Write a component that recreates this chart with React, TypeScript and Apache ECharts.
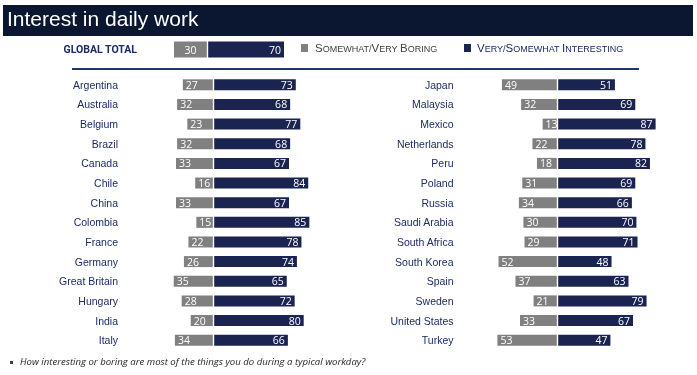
import React, { useEffect, useRef } from "react";
import * as echarts from "echarts";

const titleText = "Interest in daily work";
const globalLabel = ["GLOBAL TOTAL"];
const globalBoring = [30];
const globalInteresting = [70];

const leftCountries = ["Argentina", "Australia", "Belgium", "Brazil", "Canada", "Chile", "China", "Colombia", "France", "Germany", "Great Britain", "Hungary", "India", "Italy"];
const leftBoring = [27, 32, 23, 32, 33, 16, 33, 15, 22, 26, 35, 28, 20, 34];
const leftInteresting = [73, 68, 77, 68, 67, 84, 67, 85, 78, 74, 65, 72, 80, 66];

const rightCountries = ["Japan", "Malaysia", "Mexico", "Netherlands", "Peru", "Poland", "Russia", "Saudi Arabia", "South Africa", "South Korea", "Spain", "Sweden", "United States", "Turkey"];
const rightBoring = [49, 32, 13, 22, 18, 31, 34, 30, 29, 52, 37, 21, 33, 53];
const rightInteresting = [51, 69, 87, 78, 82, 69, 66, 70, 71, 48, 63, 79, 67, 47];

const footnote = "How interesting or boring are most of the things you do during a typical workday?";

const GRAY = "#808080";
const NAVY = "#1b2350";
const LABEL_NAVY = "#1c2b66";
const TITLE_BG = "#0b1730";
const VALUE_FONT = "'Open Sans', sans-serif";
const SANS = "'Liberation Sans', Arial, sans-serif";

export default function App() {
  const ref = useRef<HTMLDivElement>(null);

  useEffect(() => {
    if (!ref.current) return;
    const chart = echarts.init(ref.current, null, { renderer: "svg" });

    const valueLabel = (pos: string) => ({
      show: true,
      position: pos,
      distance: 3,
      color: "#fff",
      fontSize: 10.5,
      fontFamily: VALUE_FONT,
      formatter: (p: any) => String(Math.abs(p.value)),
    });

    const gapLine = {
      silent: true,
      symbol: "none",
      label: { show: false },
      lineStyle: { color: "#fff", width: 1.4, type: "solid" },
      data: [{ xAxis: 0 }],
    };

    const makeX = (gi: number, min: number, max: number) => ({
      type: "value",
      gridIndex: gi,
      min,
      max,
      show: false,
    });

    const makeY = (gi: number, cats: string[], margin: number, bold = false) => ({
      type: "category",
      gridIndex: gi,
      data: cats,
      inverse: true,
      axisLine: { show: false },
      axisTick: { show: false },
      splitLine: { show: false },
      axisLabel: {
        margin,
        color: LABEL_NAVY,
        fontSize: 10.5,
        fontWeight: bold ? "bold" : "normal",
        fontFamily: bold ? "Roboto, sans-serif" : SANS,
      },
    });

    const pair = (gi: number, boring: number[], interesting: number[], bw: number, grayPos: string) => [
      {
        type: "bar",
        xAxisIndex: gi,
        yAxisIndex: gi,
        stack: "s" + gi,
        barWidth: bw,
        data: boring.map((v) => -v),
        itemStyle: { color: GRAY },
        label: valueLabel(grayPos),
      },
      {
        type: "bar",
        xAxisIndex: gi,
        yAxisIndex: gi,
        stack: "s" + gi,
        barWidth: bw,
        data: interesting,
        itemStyle: { color: NAVY },
        label: valueLabel("insideRight"),
        markLine: gapLine,
      },
    ];

    const scale = 1.13;
    const leftCenter = 213.3;
    const rightCenter = 557.3;

    const legendRich = (color: string) => ({
      b: { fontSize: 11.5, fill: color, fontFamily: SANS, verticalAlign: "bottom" },
      s: { fontSize: 9, fill: color, fontFamily: SANS, verticalAlign: "bottom" },
    });

    chart.setOption({
      animation: false,
      grid: [
        { left: 174, width: 110, top: 41, height: 17 },
        { left: leftCenter - 60 * scale, width: 160 * scale, top: 75, height: 275 },
        { left: rightCenter - 60 * scale, width: 160 * scale, top: 75, height: 275 },
      ],
      xAxis: [makeX(0, -30, 70), makeX(1, -60, 100), makeX(2, -60, 100)],
      yAxis: [
        makeY(0, globalLabel, 37, true),
        makeY(1, leftCountries, 27.5),
        makeY(2, rightCountries, 36),
      ],
      series: [
        ...pair(0, globalBoring, globalInteresting, 16, "inside"),
        ...pair(1, leftBoring, leftInteresting, 11, "insideLeft"),
        ...pair(2, rightBoring, rightInteresting, 11, "insideLeft"),
      ],
      graphic: [
        { type: "rect", left: 3, top: 5, shape: { width: 690, height: 31 }, style: { fill: TITLE_BG } },
        {
          type: "text",
          left: 7,
          top: 8,
          style: { text: titleText, fill: "#fff", fontSize: 21, fontFamily: SANS },
        },
        { type: "rect", left: 301, top: 44, shape: { width: 7, height: 8 }, style: { fill: GRAY } },
        {
          type: "text",
          left: 315,
          top: 41.5,
          style: {
            text: "{b|S}{s|OMEWHAT/}{b|V}{s|ERY }{b|B}{s|ORING}",
            rich: legendRich("#404040"),
          },
        },
        { type: "rect", left: 464, top: 44, shape: { width: 7, height: 8 }, style: { fill: NAVY } },
        {
          type: "text",
          left: 477,
          top: 41.5,
          style: {
            text: "{b|V}{s|ERY/}{b|S}{s|OMEWHAT }{b|I}{s|NTERESTING}",
            rich: legendRich(LABEL_NAVY),
          },
        },
        {
          type: "line",
          shape: { x1: 72, y1: 69, x2: 639, y2: 69 },
          style: { stroke: "#1f3864", lineWidth: 2 },
        },
        { type: "rect", left: 10, top: 361, shape: { width: 3, height: 3 }, style: { fill: "#404040" } },
        {
          type: "text",
          left: 20,
          top: 356,
          style: {
            text: footnote,
            fill: "#262626",
            fontSize: 9.6,
            fontStyle: "italic",
            fontFamily: "'Open Sans', sans-serif",
          },
        },
      ],
    });

    return () => chart.dispose();
  }, []);

  return (
    <div
      ref={ref}
      style={{ position: "fixed", left: 0, top: 0, width: 697, height: 375 }}
    />
  );
}
